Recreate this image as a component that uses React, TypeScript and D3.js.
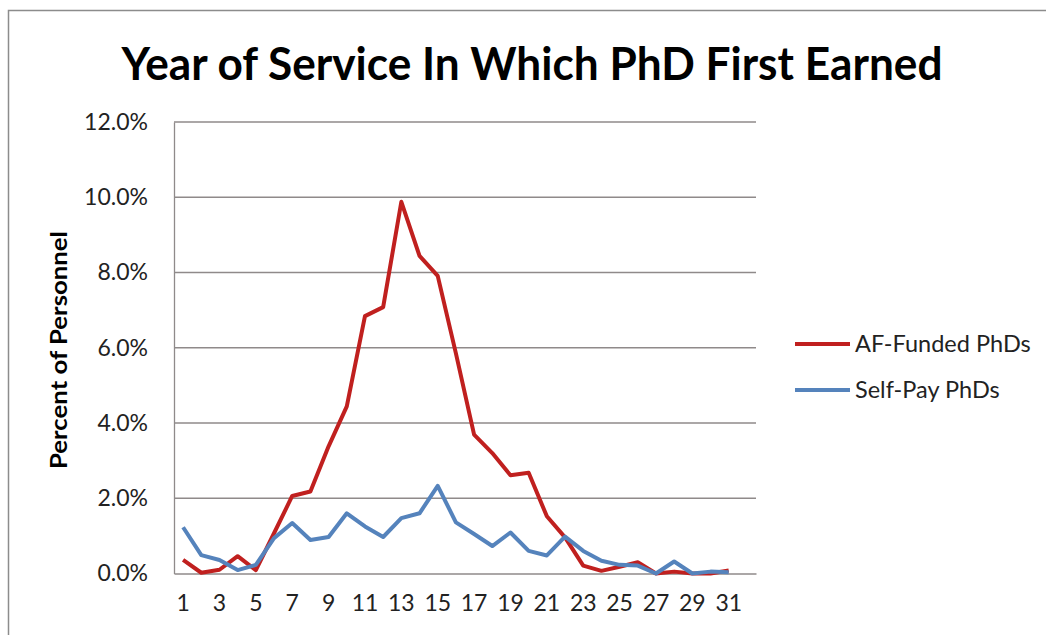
import React, { useEffect, useRef } from "react";
import * as d3 from "d3";

// year of service (32 slots on the axis, data stops at 31)
const years = d3.range(1, 33).map(String);
const tickYears = ["1", "3", "5", "7", "9", "11", "13", "15", "17", "19", "21", "23", "25", "27", "29", "31"];

// percent of personnel
const afFunded = [
  0.36, 0.02, 0.1, 0.46, 0.09, 1.07, 2.06, 2.18, 3.38, 4.44, 6.84, 7.08, 9.88, 8.44, 7.91, 5.85,
  3.69, 3.2, 2.61, 2.68, 1.52, 0.96, 0.21, 0.07, 0.18, 0.3, 0.0, 0.05, 0.0, 0.0, 0.08,
];
const selfPay = [
  1.23, 0.49, 0.36, 0.09, 0.23, 0.94, 1.34, 0.89, 0.97, 1.6, 1.25, 0.97, 1.47, 1.6, 2.33, 1.36,
  1.05, 0.73, 1.09, 0.6, 0.48, 0.98, 0.6, 0.34, 0.23, 0.21, 0.0, 0.32, 0.0, 0.05, 0.03,
];
const yTicks = [0, 2, 4, 6, 8, 10, 12];

const series = [
  { name: "AF-Funded PhDs", values: afFunded, color: "#C0201F" },
  { name: "Self-Pay PhDs", values: selfPay, color: "#5583BC" },
];

export default function App() {
  const ref = useRef<SVGSVGElement>(null);

  useEffect(() => {
    const svg = d3.select(ref.current);
    svg.selectAll("*").remove();

    const font = "Lato, 'Open Sans', sans-serif";
    const left = 174;
    const right = 756;
    const top = 122;
    const bottom = 573.5;

    svg.append("rect").attr("width", 1046).attr("height", 635).attr("fill", "#fff");

    // outer frame
    svg
      .append("path")
      .attr("d", "M8.5,640 V10.5 H1050")
      .attr("fill", "none")
      .attr("stroke", "#8c8c8c")
      .attr("stroke-width", 1.5);

    svg
      .append("text")
      .attr("x", 532)
      .attr("y", 80)
      .attr("text-anchor", "middle")
      .attr("font-family", font)
      .attr("font-weight", "bold")
      .attr("font-size", 45)
      .attr("textLength", 821)
      .attr("lengthAdjust", "spacingAndGlyphs")
      .attr("fill", "#000")
      .text("Year of Service In Which PhD First Earned");

    const x = d3.scaleBand().domain(years).range([left, right]);
    const y = d3.scaleLinear().domain([0, 12]).range([bottom, top]);
    const cx = (i: number) => x(years[i])! + x.bandwidth() / 2;

    // gridlines
    svg
      .append("g")
      .selectAll("line")
      .data(yTicks.slice(1))
      .enter()
      .append("line")
      .attr("x1", left)
      .attr("x2", right)
      .attr("y1", (d) => y(d))
      .attr("y2", (d) => y(d))
      .attr("stroke", "#8f8a8a")
      .attr("stroke-width", 1.3);

    const yAxis = svg
      .append("g")
      .attr("transform", `translate(${left},0)`)
      .call(
        d3
          .axisLeft(y)
          .tickValues(yTicks)
          .tickSize(0)
          .tickPadding(26)
          .tickFormat((d) => `${(+d).toFixed(1)}%`)
      );
    yAxis.select(".domain").attr("stroke", "#8f8a8a").attr("stroke-width", 1.3);
    yAxis
      .selectAll("text")
      .attr("font-family", font)
      .attr("font-size", 23)
      .attr("fill", "#222");

    const xAxis = svg
      .append("g")
      .attr("transform", `translate(0,${bottom})`)
      .call(d3.axisBottom(x).tickValues(tickYears).tickSize(0).tickPadding(21));
    xAxis.select(".domain").attr("stroke", "#8f8a8a").attr("stroke-width", 1.3);
    xAxis
      .selectAll("text")
      .attr("font-family", font)
      .attr("font-size", 23)
      .attr("fill", "#222");

    svg
      .append("text")
      .attr("transform", "translate(67,350) rotate(-90)")
      .attr("text-anchor", "middle")
      .attr("font-family", font)
      .attr("font-weight", "bold")
      .attr("font-size", 22)
      .attr("textLength", 238)
      .attr("lengthAdjust", "spacingAndGlyphs")
      .attr("fill", "#000")
      .text("Percent of Personnel");

    const line = d3
      .line<number>()
      .x((_, i) => cx(i))
      .y((d) => y(d));

    svg
      .append("g")
      .selectAll("path")
      .data(series)
      .enter()
      .append("path")
      .attr("d", (s) => line(s.values))
      .attr("fill", "none")
      .attr("stroke", (s) => s.color)
      .attr("stroke-width", 4)
      .attr("stroke-linejoin", "round");

    const legend = svg
      .append("g")
      .selectAll("g")
      .data(series)
      .enter()
      .append("g")
      .attr("transform", (_, i) => `translate(795,${344 + i * 46})`);
    legend
      .append("line")
      .attr("x1", 0)
      .attr("x2", 55)
      .attr("stroke", (s) => s.color)
      .attr("stroke-width", 4);
    legend
      .append("text")
      .attr("x", 60)
      .attr("dy", "0.35em")
      .attr("font-family", font)
      .attr("font-size", 23.5)
      .attr("fill", "#222")
      .text((s) => s.name);
  }, []);

  return (
    <svg
      ref={ref}
      width={1046}
      height={635}
      style={{ position: "absolute", left: 0, top: 0 }}
    ></svg>
  );
}
